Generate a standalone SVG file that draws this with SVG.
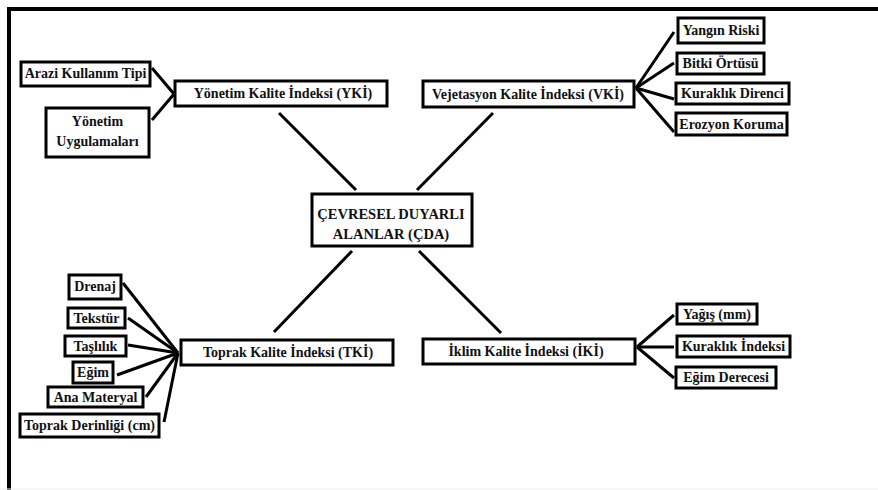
<svg xmlns="http://www.w3.org/2000/svg" width="878" height="490" viewBox="0 0 878 490">
<style>
.box{fill:#fff;stroke:#000;stroke-width:3}
.t{font-family:"Liberation Serif","Times New Roman","DejaVu Serif",serif;font-weight:bold;font-size:14px;fill:#111;text-anchor:middle}
.big{font-size:14.5px}
.c{stroke:#000;stroke-width:3;fill:none;stroke-linecap:butt}
</style>
<rect x="0" y="0" width="878" height="490" fill="#fff"/>
<path d="M9,490 V9 H878" fill="none" stroke="#000" stroke-width="4"/>
<line x1="0" y1="489" x2="878" y2="489" stroke="#eee" stroke-width="1"/>
<g id="connectors" class="c">
<line x1="152" y1="68" x2="174" y2="94"/>
<line x1="152" y1="120" x2="174" y2="94"/>
<line x1="279" y1="113" x2="356" y2="190"/>
<line x1="493" y1="113" x2="417" y2="190"/>
<line x1="352" y1="251" x2="274" y2="332"/>
<line x1="419" y1="251" x2="501" y2="333"/>
<line x1="636" y1="88" x2="674" y2="32"/>
<line x1="636" y1="88" x2="674" y2="63"/>
<line x1="636" y1="88" x2="674" y2="99"/>
<line x1="636" y1="88" x2="674" y2="132"/>
<line x1="178" y1="353" x2="123" y2="283"/>
<line x1="178" y1="353" x2="128" y2="318"/>
<line x1="178" y1="353" x2="128" y2="345"/>
<line x1="178" y1="353" x2="117" y2="375"/>
<line x1="178" y1="353" x2="146" y2="397"/>
<line x1="178" y1="353" x2="164" y2="422"/>
<line x1="637" y1="347" x2="674" y2="315"/>
<line x1="637" y1="347" x2="674" y2="347"/>
<line x1="637" y1="347" x2="674" y2="378"/>
</g>
<g id="cda"><rect class="box" x="312" y="194" width="160" height="52"/><text class="t big" x="391" y="219">ÇEVRESEL DUYARLI</text><text class="t big" x="391" y="239">ALANLAR (ÇDA)</text></g>
<g id="yki"><rect class="box" x="175" y="81" width="212" height="25"/><text class="t" x="283" y="98">Yönetim Kalite İndeksi (YKİ)</text></g>
<g id="arazi"><rect class="box" x="21" y="62" width="129" height="24"/><text class="t" x="85.5" y="78">Arazi Kullanım Tipi</text></g>
<g id="yonetim"><rect class="box" x="46" y="108" width="103" height="49"/><text class="t" x="97.5" y="126">Yönetim</text><text class="t" x="97.5" y="146">Uygulamaları</text></g>
<g id="vki"><rect class="box" x="423" y="81" width="211" height="26"/><text class="t" x="528" y="99">Vejetasyon Kalite İndeksi (VKİ)</text></g>
<g id="yangin"><rect class="box" x="678" y="18" width="86" height="25"/><text class="t" x="721" y="35">Yangın Riski</text></g>
<g id="bitki"><rect class="box" x="677" y="53" width="87" height="21"/><text class="t" x="720.5" y="68">Bitki Örtüsü</text></g>
<g id="kurakdir"><rect class="box" x="676" y="83" width="113" height="21"/><text class="t" x="732.5" y="98">Kuraklık Direnci</text></g>
<g id="erozyon"><rect class="box" x="676" y="113" width="111" height="22"/><text class="t" x="731.5" y="129">Erozyon Koruma</text></g>
<g id="tki"><rect class="box" x="181" y="340" width="212" height="25"/><text class="t" x="288" y="357">Toprak Kalite İndeksi (TKİ)</text></g>
<g id="drenaj"><rect class="box" x="69" y="275" width="52" height="24"/><text class="t" x="95" y="291">Drenaj</text></g>
<g id="tekstur"><rect class="box" x="68" y="308" width="57" height="20"/><text class="t" x="96.5" y="323">Tekstür</text></g>
<g id="taslilik"><rect class="box" x="65" y="336" width="61" height="20"/><text class="t" x="95.5" y="351">Taşlılık</text></g>
<g id="egim"><rect class="box" x="73" y="362" width="40" height="21"/><text class="t" x="93" y="377">Eğim</text></g>
<g id="anamat"><rect class="box" x="48" y="387" width="95" height="20"/><text class="t" x="95.5" y="402">Ana Materyal</text></g>
<g id="derinlik"><rect class="box" x="20" y="414" width="139" height="23"/><text class="t" x="89.5" y="430">Toprak Derinliği (cm)</text></g>
<g id="iki"><rect class="box" x="423" y="339" width="212" height="25"/><text class="t" x="526" y="356">İklim Kalite İndeksi (İKİ)</text></g>
<g id="yagis"><rect class="box" x="677" y="304" width="80" height="20"/><text class="t" x="717" y="319">Yağış (mm)</text></g>
<g id="kurakind"><rect class="box" x="677" y="336" width="113" height="21"/><text class="t" x="733.5" y="351">Kuraklık İndeksi</text></g>
<g id="egimder"><rect class="box" x="676" y="367" width="100" height="21"/><text class="t" x="726" y="382">Eğim Derecesi</text></g>
</svg>
